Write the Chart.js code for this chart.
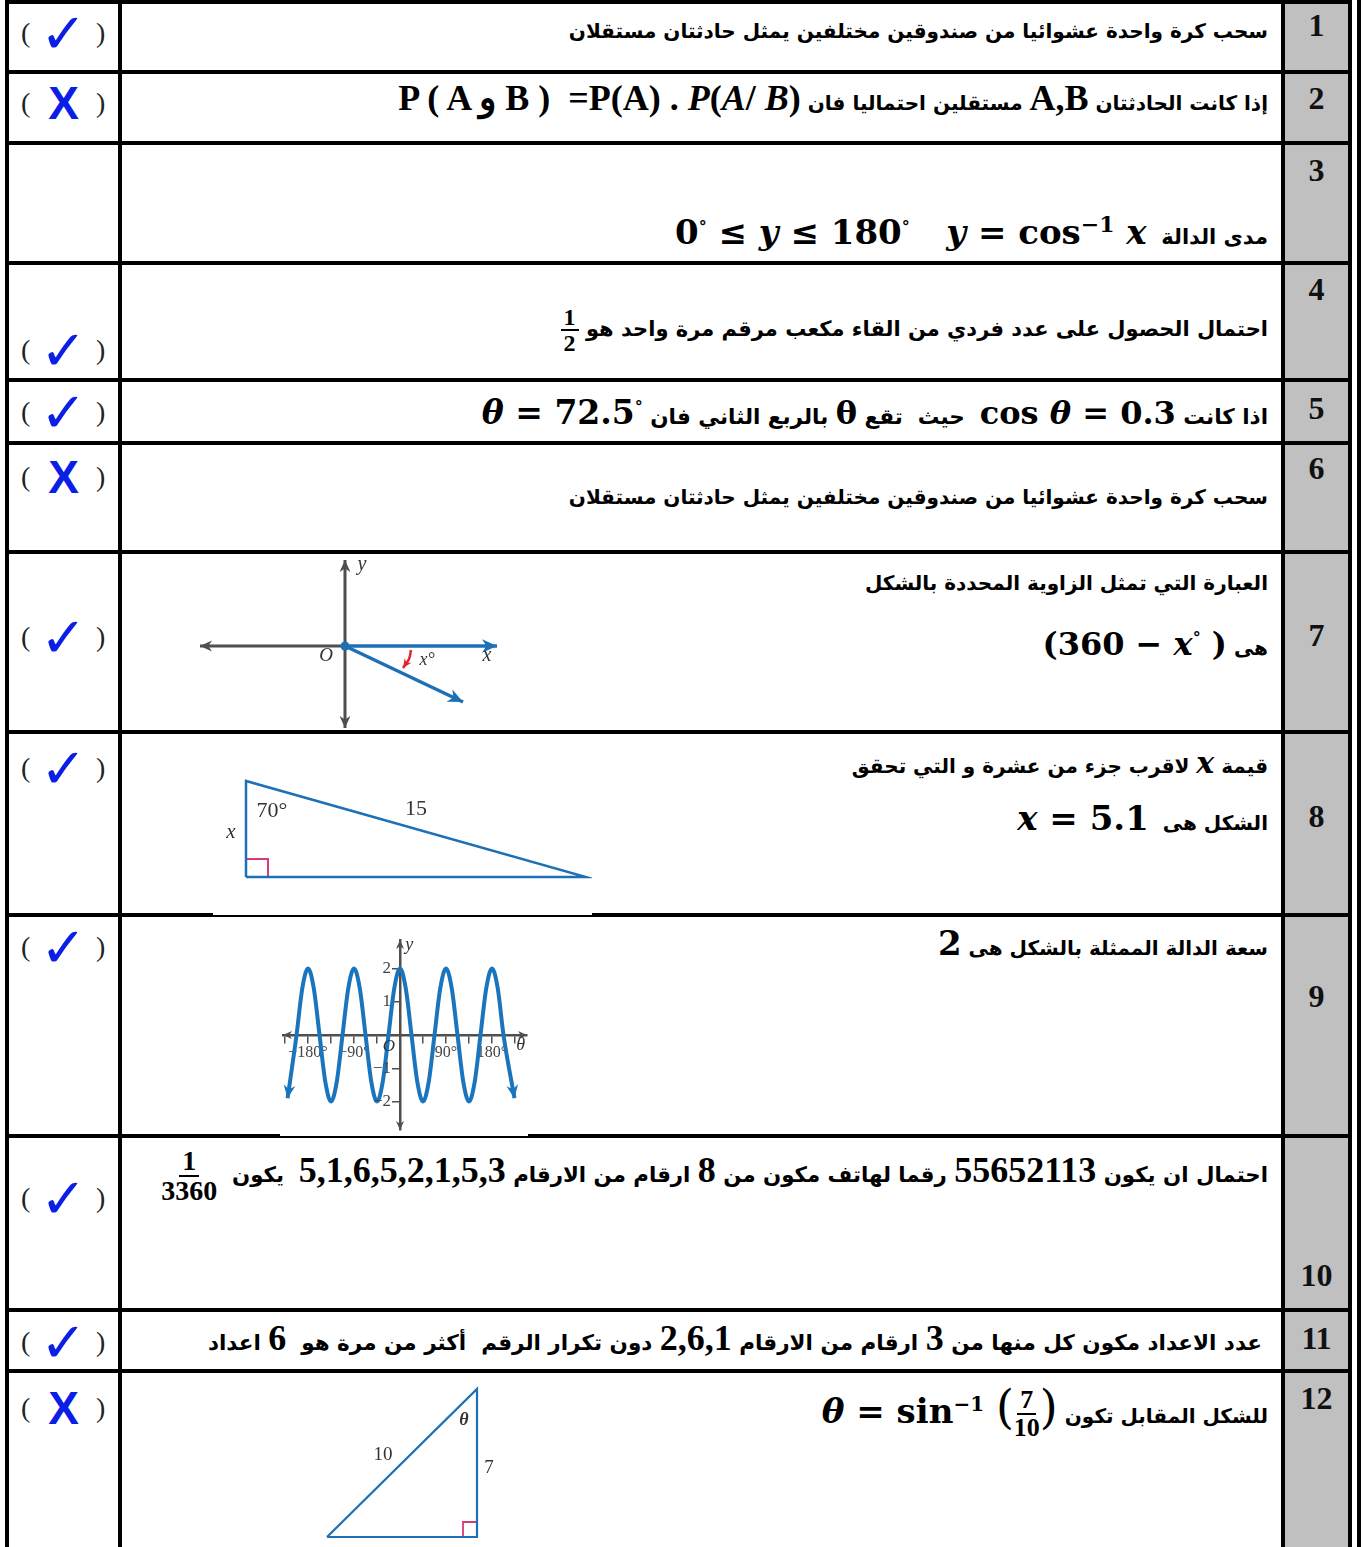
<!DOCTYPE html>
<html lang="ar">
<head>
<meta charset="utf-8">
<title>اختبار</title>
<script src="https://cdn.jsdelivr.net/npm/chart.js@4.4.1/dist/chart.umd.min.js"></script>
<style>
  html, body { margin: 0; padding: 0; background: #fff; overflow: hidden; }
  #page { position: relative; width: 1365px; height: 1547px; }
  .hl { position: absolute; left: 5px; width: 1347px; height: 4px; background: #000; }
  .vl { position: absolute; top: 0; width: 4px; height: 1547px; background: #000; }
  #grayCol { position: absolute; left: 1285px; top: 0; width: 63px; height: 1547px; background: #c0c0c0; }
  .num { position: absolute; left: 1285px; width: 63px; height: 40px; line-height: 40px; text-align: center; font: bold 32px "Liberation Serif", serif; color: #111; }
  .ans { position: absolute; left: 9px; width: 109px; height: 44px; }
  .ans span { position: absolute; top: 0; line-height: 44px; }
  .pl, .pr { font: 28px "Liberation Serif", serif; color: #222; }
  .pl { left: 12px; }
  .pr { left: 87px; }
  .mk { left: 0; width: 109px; text-align: center; color: #0b1ee6; }
  .ans span.ck { font: bold 56px "DejaVu Sans", sans-serif; line-height: 70px; top: -12px; }
  .ans span.cx { font: bold 46px "Liberation Sans", sans-serif; line-height: 50px; top: -3px; }
  .q { position: absolute; left: 124px; width: 1144px; height: 40px; line-height: 40px; direction: rtl; text-align: right; white-space: nowrap; font: bold 20px "DejaVu Sans", sans-serif; color: #000; }
  .m { display: inline-block; direction: ltr; font: bold 36px "Liberation Serif", serif; line-height: 36px; }
  .c { display: inline-block; direction: ltr; font: bold 32px "DejaVu Serif", serif; line-height: 36px; }
  .frac { display: inline-flex; flex-direction: column; align-items: center; vertical-align: middle; direction: ltr; font: bold 24px "Liberation Serif", serif; line-height: 24px; }
  .frac .n { border-bottom: 2px solid #000; padding: 0 3px; }
  .fig { position: absolute; background: #fff; }
</style>
</head>
<body>
<div id="page">
  <div id="grayCol"></div>

  <div class="q" style="top:19px">سحب كرة واحدة عشوائيا من صندوقين مختلفين يمثل حادثتان مستقلان</div>
  <div class="q" style="top:80px">إذا كانت الحادثتان <span class="m">A,B</span> مستقلين احتماليا فان <span class="m">P ( A و B ) &nbsp;=P(A) . <i>P</i>(<i>A</i>/ <i>B</i>)</span></div>
  <div class="q" style="top:206px;font-size:21px">مدى الدالة &nbsp;<span class="c" style="font-size:34px"><i>y</i> = cos<sup style="font-size:22px">−1</sup> <i>x</i></span> &nbsp;&nbsp;&nbsp; <span class="c" style="font-size:34px">0<sup style="font-size:16px">°</sup> ≤ <i>y</i> ≤ 180<sup style="font-size:16px">°</sup></span></div>
  <div class="q" style="top:305px;font-size:21px">احتمال الحصول على عدد فردي من القاء مكعب مرقم مرة واحد هو <span class="frac"><span class="n">1</span><span>2</span></span></div>
  <div class="q" style="top:389px;font-size:21.5px">اذا كانت <span class="c" style="font-size:32px">cos <i>θ</i> = 0.3</span> &nbsp;حيث &nbsp;تقع <span class="c" style="font-size:32px">θ</span> بالربع الثاني فان <span class="c" style="font-size:33px"><i>θ</i> = 72.5<sup style="font-size:16px">°</sup></span></div>
  <div class="q" style="top:485px">سحب كرة واحدة عشوائيا من صندوقين مختلفين يمثل حادثتان مستقلان</div>

  <div class="q" style="top:571px">العبارة التي تمثل الزاوية المحددة بالشكل</div>
  <div class="q" style="top:620px">هى <span class="c" style="font-size:32px">(360 − <i>x</i><sup style="font-size:16px">°</sup> )</span></div>
  <div class="q" style="top:745px">قيمة <span class="c" style="font-size:30px"><i>x</i></span> لاقرب جزء من عشرة و التي تحقق</div>
  <div class="q" style="top:800px">الشكل هى &nbsp;<span class="c" style="font-size:34px"><i>x</i> = 5.1</span></div>
  <div class="q" style="top:925px">سعة الدالة الممثلة بالشكل هى <span class="c" style="font-size:34px">2</span></div>
  <div class="q" style="top:1147px;font-size:21.3px">احتمال ان يكون <span class="m">55652113</span> رقما لهاتف مكون من <span class="m">8</span> ارقام من الارقام <span class="m">5,1,6,5,2,1,5,3</span> &nbsp;يكون &nbsp;<span class="frac" style="font-size:28px;line-height:28px"><span class="n">1</span><span>3360</span></span></div>
  <div class="q" style="top:1320px;width:1138px;font-size:21.5px">عدد الاعداد مكون كل منها من <span class="m">3</span> ارقام من الارقام <span class="m">2,6,1</span> دون تكرار الرقم &nbsp;أكثر من مرة هو &nbsp;<span class="m">6</span> اعداد</div>
  <div class="q" style="top:1386px">للشكل المقابل تكون <span class="c" style="font-size:34px"><i>θ</i> = sin<sup style="font-size:20px">−1</sup> <span style="font-size:46px;font-weight:normal">(</span><span class="frac" style="font-size:26px;line-height:26px"><span class="n">7</span><span>10</span></span><span style="font-size:46px;font-weight:normal">)</span></span></div>

  <canvas id="angleFig" class="fig" width="480" height="175" style="left:125px;top:555px"></canvas>
  <canvas id="triFig" class="fig" width="379" height="179" style="left:213px;top:736px"></canvas>
  <canvas id="sineFig" class="fig" width="248" height="211" style="left:280px;top:925px"></canvas>
  <canvas id="tri2Fig" class="fig" width="220" height="171" style="left:300px;top:1376px"></canvas>
</div>

<script>
// table frame
const lineTops = [0, 70, 141, 261, 378, 441, 550, 730, 913, 1134, 1308, 1369];
const colLines = [5, 118, 1281, 1348, 1357];
const numLabels = ['1', '2', '3', '4', '5', '6', '7', '8', '9', '10', '11', '12'];
const numCenters = [27, 100, 172, 291, 410, 470, 637, 818, 998, 1277, 1340, 1400];
const answerMarks = ['check', 'cross', '', 'check', 'check', 'cross', 'check', 'check', 'check', 'check', 'check', 'cross'];
const answerCenters = [33, 103, 0, 350, 412, 477, 637, 768, 947, 1198, 1342, 1408];

// sine graph (row 9)
const sineTheta = [-220, -202.5, -191.25, -180, -168.75, -157.5, -146.25, -135, -123.75, -112.5, -101.25, -90,
  -78.75, -67.5, -56.25, -45, -33.75, -22.5, -11.25, 0, 11.25, 22.5, 33.75, 45, 56.25, 67.5, 78.75, 90,
  101.25, 112.5, 123.75, 135, 146.25, 157.5, 168.75, 180, 191.25, 202.5, 224];
const sineValue = [-1.9, 0, 1.4, 2, 1.4, 0, -1.4, -2, -1.4, 0, 1.4, 2,
  1.4, 0, -1.4, -2, -1.4, 0, 1.4, 2, 1.4, 0, -1.4, -2, -1.4, 0, 1.4, 2,
  1.4, 0, -1.4, -2, -1.4, 0, 1.4, 2, 1.4, 0, -1.9];
const thetaTicks = [-180, -90, 90, 180];
const thetaTickText = ['−180°', '−90°', '90°', '180°'];
const yTicks = [2, 1, -1, -2];
const yTickText = ['2', '1', '−1', '−2'];

// angle figure (row 7)
const angleAxisX = [[-145, 0], [0, 0]];
const angleAxisY = [[0, 86], [0, -82]];
const angleRayX = [[0, 0], [152, 0]];
const angleRay = [[0, 0], [118, -56]];
const angleArc = [[66, -4], [64, -13], [58, -22]];

// triangles (rows 8 and 12)
const tri1 = [[0, 0], [0, 96], [340, 0], [0, 0]];
const tri1Square = [[0, 18], [22, 18], [22, 0]];
const tri2 = [[-150, 0], [0, 0], [0, 148], [-150, 0]];
const tri2Square = [[-14, 0], [-14, 15], [0, 15]];

const page = document.getElementById('page');
lineTops.forEach(t => {
  const d = document.createElement('div');
  d.className = 'hl';
  d.style.top = t + 'px';
  page.appendChild(d);
});
colLines.forEach(l => {
  const d = document.createElement('div');
  d.className = 'vl';
  d.style.left = l + 'px';
  page.appendChild(d);
});
numLabels.forEach((n, i) => {
  const d = document.createElement('div');
  d.className = 'num';
  d.style.top = (numCenters[i] - 20) + 'px';
  d.textContent = n;
  page.appendChild(d);
});
answerMarks.forEach((m, i) => {
  if (!m) return;
  const d = document.createElement('div');
  d.className = 'ans';
  d.style.top = (answerCenters[i] - 22) + 'px';
  d.innerHTML = '<span class="pl">(</span>' +
    (m === 'check' ? '<span class="mk ck">✓</span>' : '<span class="mk cx">X</span>') +
    '<span class="pr">)</span>';
  page.appendChild(d);
});
// canvases above the frame lines
document.querySelectorAll('canvas').forEach(c => page.appendChild(c));

const pts = arr => arr.map(p => ({ x: p[0], y: p[1] }));

const figurePlugin = {
  id: 'figure',
  afterDatasetsDraw(chart, args, opts) {
    const { ctx } = chart;
    const xs = chart.scales.x, ys = chart.scales.y;
    (opts.arrows || []).forEach(a => {
      const data = chart.data.datasets[a.ds].data;
      const ends = a.at === 'both' ? ['start', 'end'] : [a.at];
      ends.forEach(e => {
        const p = e === 'end' ? data[data.length - 1] : data[0];
        const q = e === 'end' ? data[data.length - 2] : data[1];
        const px = xs.getPixelForValue(p.x), py = ys.getPixelForValue(p.y);
        const qx = xs.getPixelForValue(q.x), qy = ys.getPixelForValue(q.y);
        drawHead(ctx, px, py, Math.atan2(py - qy, px - qx), a.size, a.color);
      });
    });
    if (opts.axisArrows) {
      const a = opts.axisArrows;
      const y0 = ys.getPixelForValue(0), x0 = xs.getPixelForValue(0);
      const area = chart.chartArea;
      drawHead(ctx, area.left, y0, Math.PI, a.size, a.color);
      drawHead(ctx, area.right, y0, 0, a.size, a.color);
      drawHead(ctx, x0, area.top, -Math.PI / 2, a.size, a.color);
      drawHead(ctx, x0, area.bottom, Math.PI / 2, a.size, a.color);
    }
    (opts.dots || []).forEach(d => {
      ctx.beginPath();
      ctx.arc(xs.getPixelForValue(d.x), ys.getPixelForValue(d.y), d.r, 0, Math.PI * 2);
      ctx.fillStyle = d.color;
      ctx.fill();
    });
    (opts.labels || []).forEach(l => {
      ctx.save();
      ctx.font = l.font;
      ctx.fillStyle = l.color || '#333';
      ctx.textAlign = l.align || 'center';
      ctx.textBaseline = 'middle';
      ctx.fillText(l.text, xs.getPixelForValue(l.x) + (l.dx || 0), ys.getPixelForValue(l.y));
      ctx.restore();
    });
  }
};

function drawHead(ctx, x, y, ang, size, color) {
  ctx.save();
  ctx.translate(x, y);
  ctx.rotate(ang);
  ctx.beginPath();
  ctx.moveTo(0, 0);
  ctx.lineTo(-size, size * 0.45);
  ctx.lineTo(-size * 0.7, 0);
  ctx.lineTo(-size, -size * 0.45);
  ctx.closePath();
  ctx.fillStyle = color;
  ctx.fill();
  ctx.restore();
}

const blue = '#1d6fb6';
const gray = '#4f4f4f';

function line(data, color, width) {
  return { data: pts(data), showLine: true, borderColor: color, borderWidth: width, pointRadius: 0, fill: false, clip: false };
}

function figure(id, datasets, xmin, xmax, ymin, ymax, extra) {
  return new Chart(document.getElementById(id), {
    type: 'scatter',
    data: { datasets },
    options: {
      responsive: false,
      animation: false,
      layout: { padding: 0 },
      scales: {
        x: { type: 'linear', min: xmin, max: xmax, display: false },
        y: { type: 'linear', min: ymin, max: ymax, display: false }
      },
      plugins: { legend: { display: false }, tooltip: { enabled: false }, figure: extra }
    },
    plugins: [figurePlugin]
  });
}

const serifItalic = 'italic 20px "Liberation Serif", serif';

figure('angleFig', [
  line(angleAxisX, gray, 3),
  line(angleAxisY, gray, 3),
  line(angleRayX, blue, 3.5),
  line(angleRay, blue, 3.5),
  { ...line(angleArc, '#e0262c', 2.5), tension: 0.4 }
], -220, 260, -84, 91, {
  arrows: [
    { ds: 0, at: 'start', size: 12, color: gray },
    { ds: 1, at: 'both', size: 12, color: gray },
    { ds: 2, at: 'end', size: 15, color: blue },
    { ds: 3, at: 'end', size: 15, color: blue },
    { ds: 4, at: 'end', size: 9, color: '#e0262c' }
  ],
  dots: [{ x: 0, y: 0, r: 4.5, color: blue }],
  labels: [
    { x: 17, y: 81, text: 'y', font: serifItalic },
    { x: -19, y: -10, text: 'O', font: 'italic 19px "Liberation Serif", serif' },
    { x: 142, y: -10, text: 'x', font: serifItalic },
    { x: 82, y: -14, text: 'x°', font: 'italic 18px "Liberation Serif", serif' }
  ]
});

figure('triFig', [
  line(tri1, blue, 2.5),
  line(tri1Square, '#d83a7c', 2)
], -33, 346, -38, 141, {
  labels: [
    { x: 26, y: 66, text: '70°', font: '22px "Liberation Serif", serif' },
    { x: 170, y: 68, text: '15', font: '22px "Liberation Serif", serif' },
    { x: -15, y: 45, text: 'x', font: 'italic 21px "Liberation Serif", serif' }
  ]
});

figure('tri2Fig', [
  line(tri2, blue, 2.2),
  line(tri2Square, '#d83a7c', 1.8)
], -177, 43, -10, 161, {
  labels: [
    { x: -13, y: 117, text: 'θ', font: 'bold italic 18px "Liberation Serif", serif' },
    { x: -94, y: 82, text: '10', font: '19px "Liberation Serif", serif' },
    { x: 12, y: 69, text: '7', font: '19px "Liberation Serif", serif' }
  ]
});

// y tick labels sit left of the centred axis
const yLabelItems = yTicks.map((v, i) => ({
  x: 0, y: v, dx: -9, align: 'right', text: yTickText[i], color: '#444', font: '17px "Liberation Serif", serif'
}));

// sine graph with axes through the origin
new Chart(document.getElementById('sineFig'), {
  type: 'scatter',
  data: {
    datasets: [{
      data: sineTheta.map((t, i) => ({ x: t, y: sineValue[i] })),
      showLine: true,
      borderColor: '#1b75bd',
      borderWidth: 4,
      pointRadius: 0,
      cubicInterpolationMode: 'monotone',
      clip: false
    }]
  },
  options: {
    responsive: false,
    animation: false,
    layout: { padding: { left: 3, right: 1, top: 15, bottom: 6 } },
    scales: {
      x: {
        type: 'linear', min: -229, max: 248.5, position: { y: 0 },
        border: { color: gray, width: 2.5 },
        grid: { drawOnChartArea: false, color: gray, lineWidth: 1.5, tickLength: 7 },
        ticks: {
          stepSize: 45, includeBounds: false, autoSkip: false, maxRotation: 0, padding: 1, color: '#444',
          font: { family: 'Liberation Serif', size: 16 },
          callback: v => { const k = thetaTicks.indexOf(v); return k < 0 ? '' : thetaTickText[k]; }
        },
        afterFit: s => { s.height = 0; }
      },
      y: {
        type: 'linear', min: -2.857, max: 2.857, position: { x: 0 },
        border: { color: gray, width: 2.5 },
        grid: { drawOnChartArea: false, color: gray, lineWidth: 1.5, tickLength: 7 },
        ticks: { display: false, stepSize: 1, includeBounds: false },
        afterFit: s => { s.width = 0; }
      }
    },
    plugins: {
      legend: { display: false },
      tooltip: { enabled: false },
      figure: {
        axisArrows: { size: 9, color: gray },
        arrows: [
          { ds: 0, at: 'both', size: 13, color: '#1b75bd' }
        ],
        labels: yLabelItems.concat([
          { x: 236, y: -0.3, text: 'θ', font: 'italic 18px "Liberation Serif", serif' },
          { x: 18, y: 2.7, text: 'y', font: 'italic 18px "Liberation Serif", serif' },
          { x: -22, y: -0.35, text: 'O', font: 'italic 17px "Liberation Serif", serif' }
        ])
      }
    }
  },
  plugins: [figurePlugin]
});
</script>
</body>
</html>
